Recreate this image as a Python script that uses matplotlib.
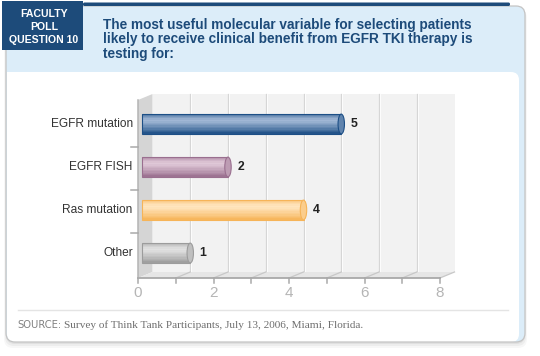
import numpy as np
import matplotlib
matplotlib.use("Agg")
import matplotlib.pyplot as plt
from matplotlib.patches import Rectangle, FancyBboxPatch, Polygon, Ellipse
from matplotlib.colors import to_rgb

# data
categories = ["EGFR mutation", "EGFR FISH", "Ras mutation", "Other"]
values = [5, 2, 4, 1]
bar_dark = ["#1d4f86", "#9a6f8f", "#f6b458", "#9c9c9c"]
bar_light = ["#a3b9d6", "#e0c9d8", "#ffe6c0", "#e2e2e2"]
x_ticks = [0, 2, 4, 6, 8]
x_max = 8

title_lines = ["The most useful molecular variable for selecting patients",
               "likely to receive clinical benefit from EGFR TKI therapy is",
               "testing for:"]
badge_lines = ["FACULTY", "POLL", "QUESTION 10"]
source_text = "Survey of Think Tank Participants, July 13, 2006, Miami, Florida."

SANS = "Liberation Sans"
NAVY = "#1d4b7a"

fig = plt.figure(figsize=(5.4, 3.56), dpi=100)
bg = fig.add_axes([0, 0, 1, 1])
bg.set_xlim(0, 540)
bg.set_ylim(356, 0)
bg.axis("off")

# card shadow
for k, a in enumerate([0.05, 0.04, 0.03]):
    bg.add_patch(FancyBboxPatch((6 - k, 7 + k), 519 + 2 * k, 337 + k,
                                boxstyle="round,pad=0,rounding_size=9",
                                fc="#000000", ec="none", alpha=a, zorder=0))
# card (light blue) and white panel
bg.add_patch(FancyBboxPatch((6, 6), 519, 336, boxstyle="round,pad=0,rounding_size=9",
                            fc="#dcedf9", ec="none", zorder=1))
bg.add_patch(FancyBboxPatch((7, 72), 512, 270, boxstyle="round,pad=0,rounding_size=8",
                            fc="white", ec="none", zorder=2))
bg.add_patch(Rectangle((7, 72), 30, 30, fc="white", ec="none", zorder=2))
bg.add_patch(FancyBboxPatch((6, 6), 519, 336, boxstyle="round,pad=0,rounding_size=9",
                            fc="none", ec="#c4c4c4", lw=0.9, zorder=3))
# top navy line and badge
bg.add_patch(FancyBboxPatch((83, 2.5), 427, 3.5, boxstyle="round,pad=0,rounding_size=1.5",
                            fc=NAVY, ec="none", zorder=4))
bg.add_patch(Rectangle((2, 1), 81, 49, fc=NAVY, ec="none", zorder=4))
for i, line in enumerate(badge_lines):
    bg.text(44, 17.3 + i * 12.7, line, color="white", fontsize=7.6, fontweight="bold",
            family=SANS, ha="center", va="baseline", zorder=5)
for i, line in enumerate(title_lines):
    bg.text(103, 28.5 + i * 14.6, line, color=NAVY, fontsize=9.8, fontweight="bold",
            family=SANS, ha="left", va="baseline", zorder=5)

# source footer
bg.plot([18, 508], [310, 310], color="#e4e4e4", lw=1, zorder=4)
src = bg.text(17, 325, "SOURCE:", color="#808080", fontsize=7.2, family="DejaVu Sans",
              ha="left", va="center", zorder=5)
bg.annotate(source_text, xy=(1, 0.5), xycoords=src, xytext=(2, 0), textcoords="offset points",
            color="#6e6e6e", fontsize=8.1, family="Liberation Serif", ha="left", va="center",
            zorder=5)

# chart axes: x in values, y in category index (pixel = 124 + 43*y)
ax = fig.add_axes([0, 0, 1, 1], zorder=2)
ax.patch.set_alpha(0)
px = 37.75
ax.set_xlim(-138 / px, (540 - 138) / px)
ax.set_ylim((356 - 124) / 43, -124 / 43)
ax.axis("off")

DX = 14.5 / px
DY = 6 / 43
floor = (278 - 124) / 43
top = (94 - 124) / 43

# back wall
ax.add_patch(Polygon([(DX, top), (x_max + DX, top), (x_max + DX, floor - DY), (DX, floor - DY)],
                     closed=True, fc="#f2f2f2", ec="none", zorder=1))
for k in range(1, x_max):
    ax.plot([k + DX, k + DX], [top, floor - DY], color="#d6d6d6", lw=0.9, zorder=2)
    ax.plot([k + DX + 0.03, k + DX + 0.03], [top, floor - DY], color="white", lw=0.6, zorder=2)
# left wall
ax.add_patch(Polygon([(0, top + DY), (DX, top), (DX, floor - DY), (0, floor)],
                     closed=True, fc="#d5d5d5", ec="none", zorder=2))
# floor
ax.add_patch(Polygon([(0, floor), (x_max, floor), (x_max + DX, floor - DY), (DX, floor - DY)],
                     closed=True, fc="#e6e6e6", ec="none", zorder=2))
for k in range(1, x_max + 1):
    ax.plot([k, k + DX], [floor, floor - DY], color="#c8c8c8", lw=0.9, zorder=3)

# axes lines
ax.plot([0, x_max], [floor, floor], color="#a9a9a9", lw=1.3, zorder=4)
ax.plot([0, 0], [top + DY, floor], color="#b4b4b4", lw=1.1, zorder=4)
for k in range(0, x_max + 1):
    ax.plot([k, k], [floor, floor + 5 / 43], color="#a9a9a9", lw=1.1, zorder=4)
for k in range(1, len(categories)):
    ax.plot([-0.18, 0], [k - 0.47, k - 0.47], color="#a9a9a9", lw=1.1, zorder=4)
for t in x_ticks:
    ax.text(t, floor + 15 / 43, str(t), color="#b5b5b5", fontsize=11, family=SANS,
            ha="center", va="center", zorder=5)

# bars
h = 0.46
start = 0.1
n = 14
for i, (cat, v) in enumerate(zip(categories, values)):
    dark = np.array(to_rgb(bar_dark[i]))
    light = np.array(to_rgb(bar_light[i]))
    width = v + DX - start
    for k in range(n):
        t = (k + 0.5) / n
        if t < 0.3:
            w = (0.3 - t) / 0.3 * 0.55
        else:
            w = min(1.0, (t - 0.3) / 0.7) ** 1.2
        col = light * (1 - w) + dark * w
        ax.barh(i - h / 2 + (k + 0.5) * h / n, width, left=start, height=h / n * 1.02,
                color=col, edgecolor="none", zorder=6)
    ax.barh(i, width, left=start, height=h, fill=False, edgecolor=bar_dark[i], lw=0.8, zorder=7)
    ax.add_patch(Ellipse((start + width, i), 0.17, h, fc=(light + dark) / 2,
                         ec=bar_dark[i], lw=0.8, zorder=8))
    ax.text(-0.14, i, cat, color="#333333", fontsize=8.6, family=SANS,
            ha="right", va="center", zorder=5)
    ax.text(v + DX + 0.25, i, str(v), color="#222222", fontsize=8.8, fontweight="bold",
            family=SANS, ha="left", va="center", zorder=8)

fig.savefig("out.png", dpi=100)
